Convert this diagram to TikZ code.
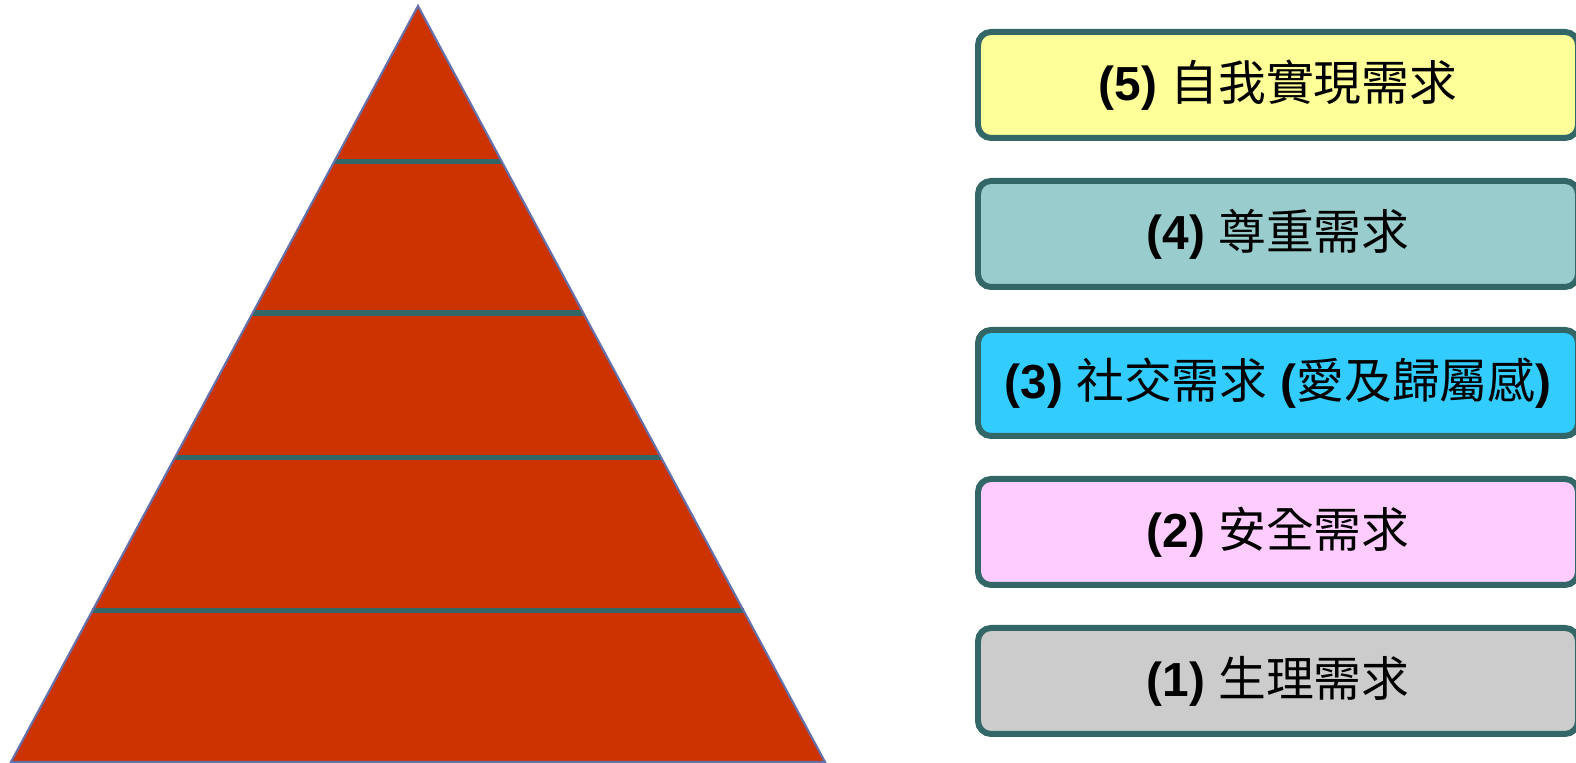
\documentclass[tikz,border=0pt]{standalone}
\usepackage{fontspec}
\setmainfont{Liberation Sans}
\newfontfamily\cjk{Noto Sans CJK TC}
\usepackage{tikz}
\usetikzlibrary{positioning,calc}

\definecolor{pyrfill}{HTML}{CC3300}
\definecolor{pyredge}{HTML}{6670AA}
\definecolor{bandline}{HTML}{336666}
\definecolor{needfive}{HTML}{FFFF99}
\definecolor{needfour}{HTML}{99CCCC}
\definecolor{needthree}{HTML}{33CCFF}
\definecolor{needtwo}{HTML}{FFCCFF}
\definecolor{needone}{HTML}{CCCCCC}

\begin{document}
\begin{tikzpicture}[
  need/.style={rectangle, rounded corners=0.13cm, draw=bandline, line width=1.7pt, outer sep=0pt, minimum width=6.0cm, minimum height=1.06cm, font=\fontsize{13.6}{16}\selectfont},
  band/.style={draw=bandline, line width=1.5pt}
]
\useasboundingbox (0,0) rectangle (15.76,7.63);

% pyramid
\coordinate (apex) at (4.18,7.57);
\coordinate (bl) at (0.11,0.01);
\coordinate (br) at (8.25,0.01);
\fill[pyrfill] (apex) -- (bl) -- (br) -- cycle;
\foreach \t in {0.206,0.406,0.597,0.8}
  \draw[band] ($(apex)!\t!(bl)$) -- ($(apex)!\t!(br)$);
\draw[pyredge, line width=0.6pt] (apex) -- (bl) -- (br) -- cycle;

% levels
\node[need, fill=needfive] (n5) at (12.78,6.78) {\textbf{(5)} {\cjk 自我實現需求}};
\node[need, fill=needfour] (n4) [below=0.43cm of n5] {\textbf{(4)} {\cjk 尊重需求}};
\node[need, fill=needthree] (n3) [below=0.43cm of n4] {\textbf{(3)} {\cjk 社交需求} \textbf{(}{\cjk 愛及歸屬感}\textbf{)}};
\node[need, fill=needtwo] (n2) [below=0.43cm of n3] {\textbf{(2)} {\cjk 安全需求}};
\node[need, fill=needone] (n1) [below=0.43cm of n2] {\textbf{(1)} {\cjk 生理需求}};

\end{tikzpicture}
\end{document}
